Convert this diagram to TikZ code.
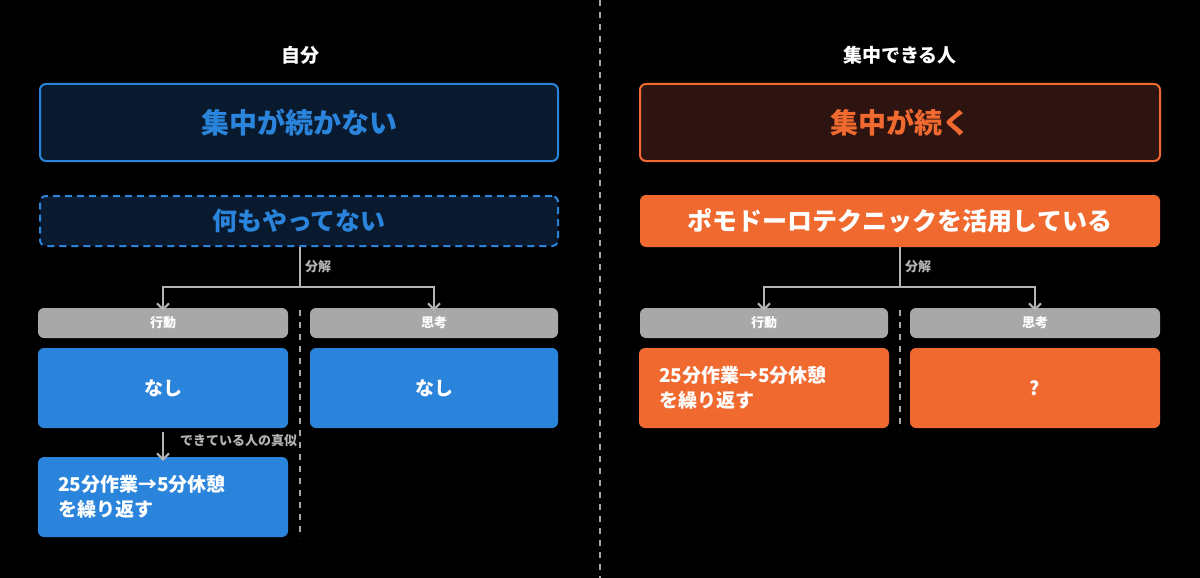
\documentclass[tikz,border=0pt]{standalone}
\usepackage{fontspec}
\setmainfont{Noto Sans CJK JP}
\usetikzlibrary{arrows.meta}
\definecolor{bl}{HTML}{2A84DC}
\definecolor{nv}{HTML}{0A1A2E}
\definecolor{og}{HTML}{F06A30}
\definecolor{br}{HTML}{2E1410}
\definecolor{gr}{HTML}{A8A8A8}
\definecolor{ln}{HTML}{B4B4B4}
\begin{document}
\begin{tikzpicture}[x=1pt,y=-1pt,
 box/.style={rounded corners=6pt,inner sep=0pt,font=\bfseries,text=white},
 hdr/.style={box,fill=gr,font=\bfseries\fontsize{13}{15}\selectfont},
 cell/.style={box,font=\bfseries\fontsize{19}{25}\selectfont},
 conn/.style={ln,line width=2pt,-{Straight Barb[length=6pt,width=12pt]}},
 lbl/.style={text=ln,font=\bfseries\fontsize{13}{15}\selectfont,inner sep=0pt,anchor=west}]
\fill[black] (0,0) rectangle (1200,578);
\useasboundingbox (0,0) rectangle (1200,578);
\draw[gray!70,line width=2pt,dash pattern=on 6pt off 6pt] (600,0) -- (600,578);
\node[text=white,font=\bfseries\fontsize{19}{22}\selectfont] (t1) at (300,55) {自分};
\node[text=white,font=\bfseries\fontsize{19}{22}\selectfont] (t2) at (900,55) {集中できる人};
% left
\node[box,draw=bl,line width=2pt,fill=nv,minimum width=518pt,minimum height=77pt,text=bl,font=\bfseries\fontsize{28}{32}\selectfont] (l1) at (299,122.5) {集中が続かない};
\node[box,draw=bl,line width=2pt,dash pattern=on 7pt off 5pt,fill=nv,minimum width=518pt,minimum height=50pt,text=bl,font=\bfseries\fontsize{25}{30}\selectfont] (l2) at (299,221) {何もやってない};
\node[box,fill=og,draw=og,line width=2pt,minimum width=520pt,minimum height=77pt,draw=og,fill=br,text=og,font=\bfseries\fontsize{28}{32}\selectfont] (r1) at (900,122.5) {集中が続く};
\node[box,fill=og,minimum width=520pt,minimum height=52pt,font=\bfseries\fontsize{25}{30}\selectfont] (r2) at (900,221) {ポモドーロテクニックを活用している};
% headers
\node[hdr,minimum width=250pt,minimum height=30pt] (lh1) at (163,323) {行動};
\node[hdr,minimum width=248pt,minimum height=30pt] (lh2) at (434,323) {思考};
\node[hdr,minimum width=248pt,minimum height=30pt] (rh1) at (764,323) {行動};
\node[hdr,minimum width=250pt,minimum height=30pt] (rh2) at (1035,323) {思考};
\node[cell,fill=bl,minimum width=250pt,minimum height=80pt] (lc1) at (163,388) {なし};
\node[cell,fill=bl,minimum width=248pt,minimum height=80pt] (lc2) at (434,388) {なし};
\node[cell,fill=bl,minimum width=250pt,minimum height=80pt,align=left,text width=210pt] (lc3) at (163,497) {25分作業→5分休憩\\を繰り返す};
\node[cell,fill=og,minimum width=250pt,minimum height=80pt,align=left,text width=210pt] (rc1) at (764,388) {25分作業→5分休憩\\を繰り返す};
\node[cell,fill=og,minimum width=250pt,minimum height=80pt] (rc2) at (1035,388) {?};
% dividers
\draw[gray!70,line width=2pt,dash pattern=on 6pt off 6pt] (300,310) -- (300,538);
\draw[gray!70,line width=2pt,dash pattern=on 6pt off 6pt] (900,310) -- (900,430);
% branches
\coordinate (lb) at (300,287); \coordinate (rb) at (900,287);
\draw[ln,line width=2pt] (l2.south -| lb) -- (lb);
\draw[conn] (lb) -| ([yshift=-3pt]lh1.north);
\draw[conn] (lb) -| ([yshift=-3pt]lh2.north);
\draw[ln,line width=2pt] (r2.south -| rb) -- (rb);
\draw[conn] (rb) -| ([yshift=-3pt]rh1.north);
\draw[conn] (rb) -| ([yshift=-3pt]rh2.north);
\node[lbl] (d1) at (305,267) {分解};
\node[lbl] (d2) at (905,267) {分解};
\draw[conn] ([yshift=-4pt]lc1.south) -- ([yshift=-4pt]lc3.north);
\node[lbl] (m1) at (180,441) {できている人の真似};
\end{tikzpicture}
\end{document}
